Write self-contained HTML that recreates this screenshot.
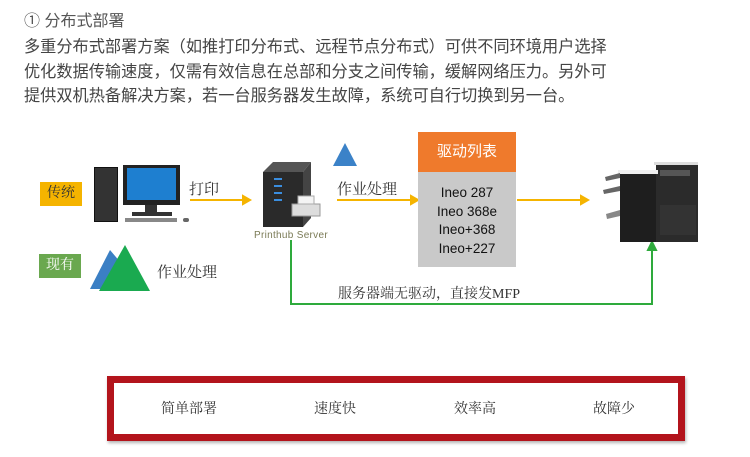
<!DOCTYPE html>
<html><head><meta charset="utf-8"><style>
body{margin:0;width:750px;height:457px;background:#fff;position:relative;overflow:hidden;font-family:"Liberation Sans","Noto Sans CJK SC",sans-serif;color:#333}
.a{position:absolute}
.t{font-size:16.2px;color:#444;line-height:21px;white-space:nowrap}
.cj{font-family:"Liberation Serif","Noto Serif CJK SC",serif}
</style></head><body>
<div class="a t" style="left:24px;top:11px;font-size:16px;color:#555">① 分布式部署</div>
<div class="a t" style="left:24px;top:37px">多重分布式部署方案（如推打印分布式、远程节点分布式）可供不同环境用户选择</div>
<div class="a t" style="left:24px;top:62px">优化数据传输速度，仅需有效信息在总部和分支之间传输，缓解网络压力。另外可</div>
<div class="a t" style="left:24px;top:86px">提供双机热备解决方案，若一台服务器发生故障，系统可自行切换到另一台。</div>

<div class="a cj" style="left:40px;top:182px;width:42px;height:24px;background:#f5b400;color:#333;font-size:14px;line-height:24px;text-align:center">传统</div>
<div class="a cj" style="left:39px;top:254px;width:42px;height:24px;background:#6aa84f;color:#fff;font-size:14px;line-height:24px;text-align:center">现有</div>

<!-- computer -->
<div class="a" style="left:94px;top:167px;width:22px;height:53px;background:#333;border:1px solid #111"></div>
<div class="a" style="left:123px;top:165px;width:57px;height:40px;background:#222;"></div>
<div class="a" style="left:127px;top:168px;width:49px;height:32px;background:#1e7fd0"></div>
<div class="a" style="left:145px;top:205px;width:12px;height:8px;background:#333"></div>
<div class="a" style="left:132px;top:212px;width:40px;height:4px;background:#333"></div>
<div class="a" style="left:125px;top:218px;width:52px;height:4px;background:#888"></div>
<div class="a" style="left:183px;top:218px;width:6px;height:4px;background:#666;border-radius:3px"></div>

<div class="a cj" style="left:189px;top:178px;font-size:15px">打印</div>
<svg class="a" style="left:0;top:0" width="750" height="457">
<g stroke="#f5b400" stroke-width="2" fill="#f5b400">
<line x1="190" y1="200" x2="244" y2="200"/><polygon points="250,200 243,196 243,204"/>
<line x1="337" y1="200" x2="412" y2="200"/><polygon points="418,200 411,196 411,204"/>
<line x1="517" y1="200" x2="582" y2="200"/><polygon points="588,200 581,196 581,204"/>
</g>
<g stroke="#2eaa3c" stroke-width="2" fill="#2eaa3c">
<polyline fill="none" points="291,240 291,304 652,304 652,248"/>
<polygon points="652,242 648,250 656,250"/>
</g>
<polygon points="333,166 345,143 357,166" fill="#3b82c8"/>
<polygon points="90,289 110,250 143,289" fill="#3b7fc4"/>
<polygon points="99,291 125,245 150,291" fill="#1aaa50"/>
<!-- server -->
<polygon points="263,172 273,162 311,162 303,172" fill="#555"/>
<rect x="263" y="172" width="40" height="55" fill="#2a2a2a"/>
<polygon points="303,172 311,162 311,218 303,227" fill="#444"/>
<g fill="#3a8ee0"><rect x="274" y="178" width="8" height="2"/><rect x="274" y="185" width="8" height="2"/><rect x="274" y="192" width="8" height="2"/><rect x="274" y="199" width="8" height="2"/></g>
<rect x="292" y="204" width="28" height="12" fill="#ddd" stroke="#999"/>
<rect x="298" y="196" width="16" height="8" fill="#f4f4f4" stroke="#aaa"/>
<!-- MFP -->
<rect x="620" y="172" width="36" height="70" fill="#1e1e1e"/>
<rect x="656" y="164" width="42" height="78" fill="#2b2b2b"/>
<rect x="618" y="170" width="40" height="4" fill="#eee"/>
<rect x="654" y="162" width="44" height="3" fill="#ddd"/>
<rect x="660" y="170" width="30" height="6" fill="#555"/>
<rect x="660" y="205" width="36" height="30" fill="#333"/>
<polygon points="605,177 620,173 620,178 606,181" fill="#666"/>
<polygon points="603,190 620,186 620,191 604,194" fill="#666"/>
<polygon points="606,214 620,210 620,216 607,219" fill="#888"/>
</svg>
<div class="a" style="left:254px;top:230px;font-size:10px;color:#7a7a55;letter-spacing:0.3px">Printhub Server</div>
<div class="a cj" style="left:337px;top:178px;font-size:15px">作业处理</div>
<div class="a cj" style="left:157px;top:261px;font-size:15px">作业处理</div>

<div class="a" style="left:418px;top:132px;width:98px;height:40px;background:#ef7a2c;color:#fff;font-size:15px;line-height:40px;text-align:center" >驱动列表</div>
<div class="a" style="left:418px;top:172px;width:98px;height:95px;background:#c9c9c9;color:#111;font-size:13.5px;line-height:18.5px;text-align:center;padding-top:12px;box-sizing:border-box">Ineo 287<br>Ineo 368e<br>Ineo+368<br>Ineo+227</div>
<div class="a cj" style="left:338px;top:283px;font-size:14px">服务器端无驱动，直接发MFP</div>

<div class="a" style="left:107px;top:376px;width:578px;height:65px;border:7px solid #b3141c;box-sizing:border-box;box-shadow:1px 2px 3px rgba(0,0,0,.3)"></div>
<div class="a cj" style="left:161px;top:398px;font-size:14px">简单部署</div>
<div class="a cj" style="left:314px;top:398px;font-size:14px">速度快</div>
<div class="a cj" style="left:454px;top:398px;font-size:14px">效率高</div>
<div class="a cj" style="left:593px;top:398px;font-size:14px">故障少</div>
</body></html>
